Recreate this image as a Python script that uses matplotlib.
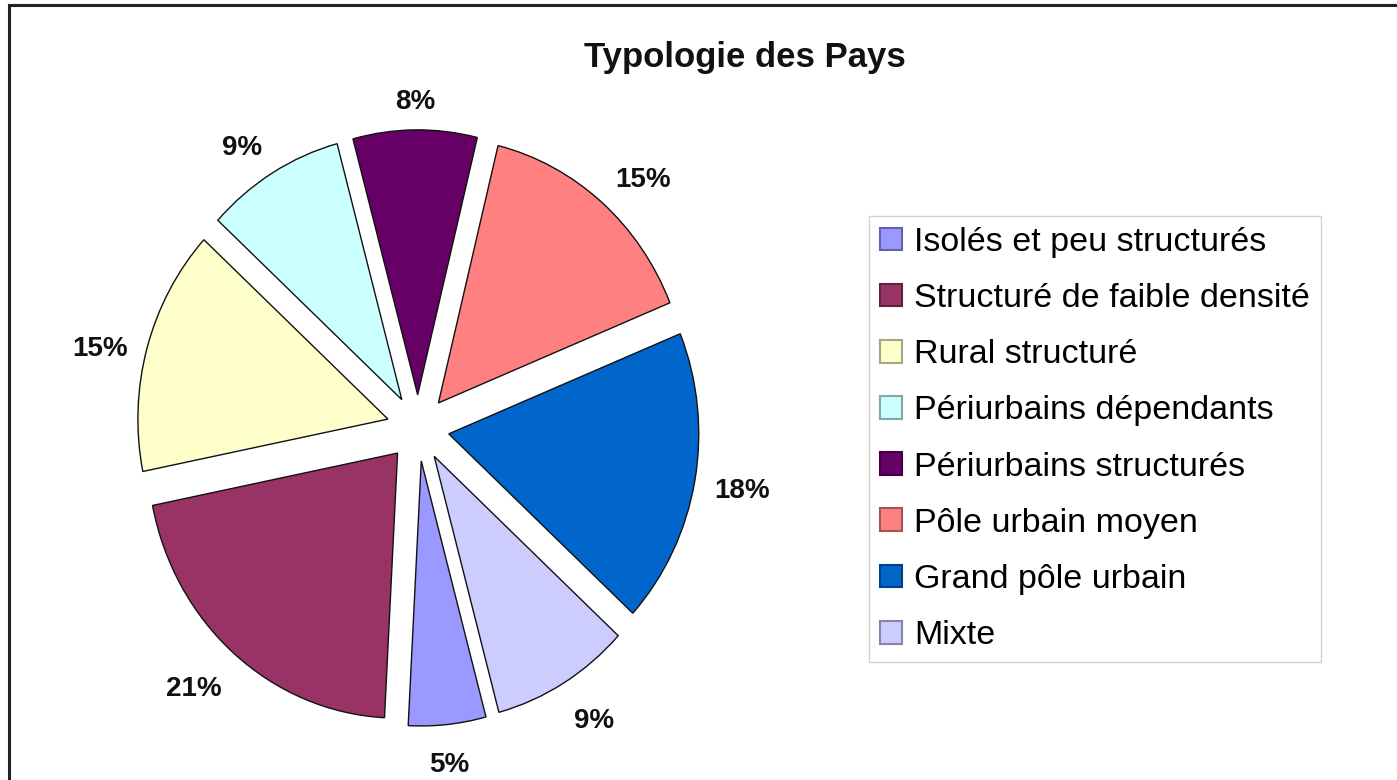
import matplotlib
matplotlib.use('Agg')
import matplotlib.pyplot as plt
from matplotlib.lines import Line2D
import matplotlib.colors as mcolors
import numpy as np

categories = ["Isolés et peu structurés", "Structuré de faible densité", "Rural structuré",
              "Périurbains dépendants", "Périurbains structurés", "Pôle urbain moyen",
              "Grand pôle urbain", "Mixte"]
values = [5, 21, 15, 9, 8, 15, 18, 9]
colors = ["#9999ff", "#993366", "#ffffcc", "#ccffff", "#660066", "#ff8080", "#0066cc", "#ccccff"]
title = "Typologie des Pays"

plt.rcParams['font.family'] = ['Liberation Sans', 'DejaVu Sans']

W, H = 1397, 780
fig = plt.figure(figsize=(W / 100, H / 100), dpi=100)
fig.patch.set_facecolor('white')

cx, cy = 418, 428
rx, ry = 250, 265
lim = 1.35
ax = fig.add_axes([(cx - lim * rx) / W, (H - cy - lim * ry) / H, 2 * lim * rx / W, 2 * lim * ry / H])
wedges, texts, autotexts = ax.pie(
    values, colors=colors, startangle=285, counterclock=False,
    explode=[0.125] * len(values), autopct='%1.0f%%', pctdistance=1.16,
    wedgeprops=dict(edgecolor='#111111', linewidth=1.0),
    textprops=dict(fontsize=20, fontweight='bold', color='#111111'))
ax.set_aspect('auto')
ax.set_xlim(-lim, lim)
ax.set_ylim(-lim, lim)
ax.axis('off')

# place percentage labels just outside each wedge, aligned by direction
for w, t in zip(wedges, autotexts):
    th = np.deg2rad((w.theta1 + w.theta2) / 2)
    c, s = np.cos(th), np.sin(th)
    x0, y0 = w.center
    t.set_position((x0 + 1.08 * w.r * c, y0 + 1.08 * w.r * s - 0.025))
    t.set_ha('center' if abs(c) < 0.3 else ('left' if c > 0 else 'right'))
    t.set_va('center' if abs(s) < 0.3 else ('bottom' if s > 0 else 'top'))

fig.text(745 / W, 1 - 58 / H, title, ha='center', va='center',
         fontsize=25, fontweight='bold', color='#111111')

# outer frame (left and top visible)
fig.add_artist(Line2D([8.5 / W, 8.5 / W], [0, 1 - 5 / H], color='#222222', lw=2.2,
                      transform=fig.transFigure))
fig.add_artist(Line2D([8.5 / W, 1], [1 - 5 / H, 1 - 5 / H], color='#222222', lw=2.2,
                      transform=fig.transFigure))


def darker(col, f=0.65):
    r, g, b = mcolors.to_rgb(col)
    return (r * f, g * f, b * f)


leg = fig.legend(wedges, categories, loc='upper left', bbox_to_anchor=(869 / W, 1 - 216 / H),
                 frameon=True, fancybox=False, edgecolor='#c8c8c8', fontsize=24.5,
                 handlelength=0.65, handleheight=0.65, handletextpad=0.35,
                 labelspacing=0.74, borderpad=0.32, borderaxespad=0)
leg.get_frame().set_linewidth(1.0)
for h, col in zip(leg.legend_handles, colors):
    h.set_edgecolor(darker(col))
    h.set_linewidth(1.5)

fig.savefig('out.png', dpi=100, facecolor='white')
